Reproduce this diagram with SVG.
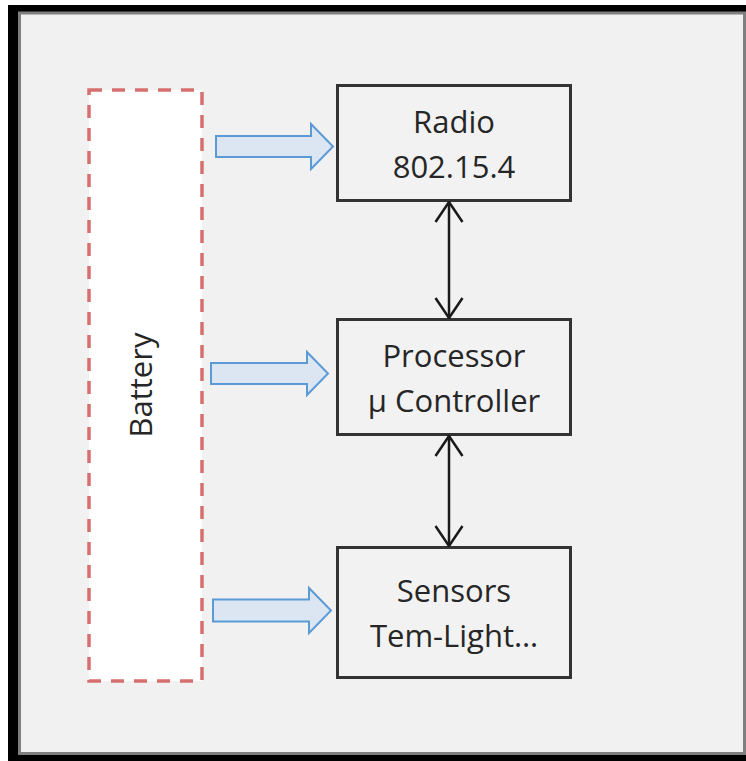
<svg xmlns="http://www.w3.org/2000/svg" width="746" height="761" viewBox="0 0 746 761">
  <defs>
    <style>
      .box { fill: #f2f2f2; stroke: #333333; stroke-width: 3; }
      .label { font-family: "Open Sans", "Liberation Sans", sans-serif; font-size: 31px; fill: #262626; text-anchor: middle; }
      .power { fill: #dce6f2; stroke: #5b9bd5; stroke-width: 2; stroke-linejoin: miter; }
      .link { fill: none; stroke: #1a1a1a; stroke-width: 2.5; }
    </style>
    <marker id="vee" viewBox="0 0 22 30" refX="21" refY="15" markerWidth="22" markerHeight="30" markerUnits="userSpaceOnUse" orient="auto-start-reverse">
      <path d="M1,1.5 L21,15 L1,28.5" fill="none" stroke="#1a1a1a" stroke-width="2.5"/>
    </marker>
  </defs>

  <!-- frame -->
  <rect x="0" y="0" width="746" height="761" fill="#ffffff"/>
  <rect x="8" y="5" width="738" height="756" fill="#000000"/>
  <rect x="19.5" y="13" width="725" height="740.5" fill="#f1f1f1" stroke="#7f7f7f" stroke-width="3"/>

  <!-- battery -->
  <g id="battery">
    <rect x="89" y="90" width="113" height="591" fill="#ffffff" stroke="#d6706e" stroke-width="3.5" stroke-dasharray="13 10"/>
    <text class="label" transform="translate(152,385) rotate(-90)" x="0" y="0">Battery</text>
  </g>

  <!-- modules -->
  <g id="radio">
    <rect class="box" x="337.5" y="85.5" width="233" height="115"/>
    <text class="label" x="454" y="133">Radio</text>
    <text class="label" x="454" y="178">802.15.4</text>
  </g>
  <g id="processor">
    <rect class="box" x="337.5" y="319.5" width="233" height="115"/>
    <text class="label" x="454" y="367">Processor</text>
    <text class="label" x="454" y="412">µ Controller</text>
  </g>
  <g id="sensors">
    <rect class="box" x="337.5" y="547.5" width="233" height="130"/>
    <text class="label" x="454" y="602">Sensors</text>
    <text class="label" x="454" y="647">Tem-Light…</text>
  </g>

  <!-- connectors -->
  <g id="connectors">
    <path class="power" d="M216,136 L311,136 L311,124 L333,146.5 L311,169 L311,157 L216,157 Z"/>
    <path class="power" d="M211,363 L307,363 L307,352 L328,373.5 L307,395 L307,384 L211,384 Z"/>
    <path class="power" d="M213,599.5 L309,599.5 L309,588 L331,610.5 L309,633 L309,621.5 L213,621.5 Z"/>
    <line class="link" x1="449" y1="202" x2="449" y2="318" marker-start="url(#vee)" marker-end="url(#vee)"/>
    <line class="link" x1="449" y1="436" x2="449" y2="546" marker-start="url(#vee)" marker-end="url(#vee)"/>
  </g>
</svg>
